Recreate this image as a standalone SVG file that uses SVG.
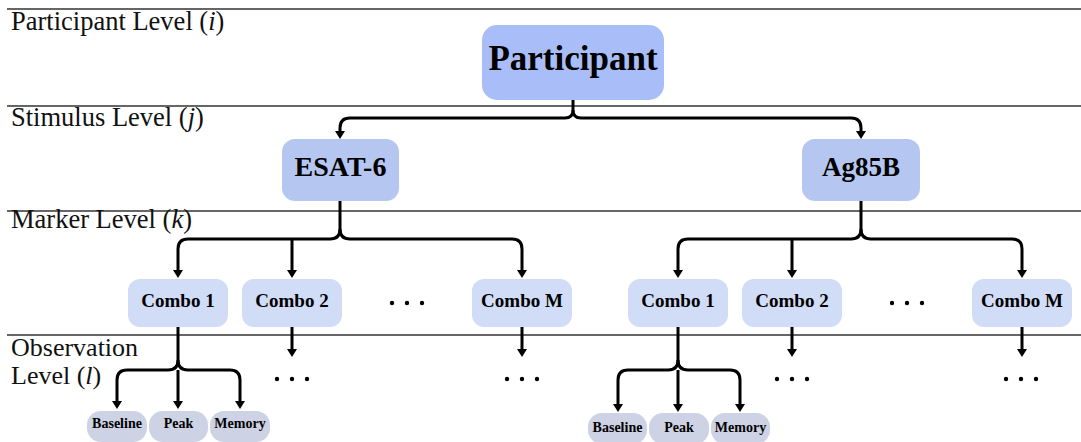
<svg xmlns="http://www.w3.org/2000/svg" width="1081" height="442" viewBox="0 0 1081 442">
<style>
.rule{stroke:#333;stroke-width:1.3;fill:none}
.lvl{font-family:"Liberation Serif","Times New Roman",serif;font-size:26.5px;fill:#111}
.lvl.ob{font-size:26px}
.lvl tspan.it{font-style:italic}
.b{font-family:"Liberation Serif","Times New Roman",serif;font-weight:bold;fill:#000;text-anchor:middle}
.p{fill:#a9bef8}
.s{fill:#b5c7f1}
.c{fill:#d1dcf7}
.o{fill:#cdd2e4}
.conn path{fill:none;stroke:#000;stroke-width:3;marker-end:url(#ah)}
.conn path.nm{marker-end:none}
.dots circle{fill:#000}
</style>
<defs>
<marker id="ah" viewBox="0 0 8 10" refX="4" refY="5" markerWidth="8" markerHeight="10" markerUnits="userSpaceOnUse" orient="auto">
<path d="M0,0 L8,5 L0,10 z" fill="#000"/>
</marker>
</defs>
<rect width="1081" height="442" fill="#fff"/>
<g id="rules">
<line class="rule" x1="7" y1="9" x2="1081" y2="9"/>
<line class="rule" x1="7" y1="106" x2="1081" y2="106"/>
<line class="rule" x1="7" y1="211" x2="1081" y2="211"/>
<line class="rule" x1="7" y1="335" x2="1081" y2="335"/>
</g>
<g id="level-labels">
<text class="lvl" x="11" y="30">Participant Level (<tspan class="it">i</tspan>)</text>
<text class="lvl" x="11" y="126">Stimulus Level (<tspan class="it">j</tspan>)</text>
<text class="lvl" x="11" y="228">Marker Level (<tspan class="it">k</tspan>)</text>
<text class="lvl ob" x="11" y="356">Observation</text>
<text class="lvl ob" x="11" y="384">Level (<tspan class="it">l</tspan>)</text>
</g>
<g class="conn" id="connectors">
<path class="nm" d="M573,100 V110"/>
<path d="M573,110 Q573,118 565,118 H350 Q340,118 340,128 V135"/>
<path d="M573,110 Q573,118 581,118 H851 Q861,118 861,128 V135"/>
<path class="nm" d="M340,201 V229"/>
<path d="M340,229 Q340,239 330,239 H188 Q178,239 178,249 V274"/>
<path d="M340,229 Q340,239 350,239 H512 Q522,239 522,249 V274"/>
<path d="M292,239 V274"/>
<path class="nm" d="M861,201 V229"/>
<path d="M861,229 Q861,239 851,239 H688 Q678,239 678,249 V274"/>
<path d="M861,229 Q861,239 871,239 H1012 Q1022,239 1022,249 V274"/>
<path d="M792,239 V274"/>
<path d="M292,327 V353"/>
<path d="M522,327 V353"/>
<path d="M792,327 V353"/>
<path d="M1022,327 V353"/>
<path class="nm" d="M178,327 V360"/>
<path d="M178,360 Q178,370 168,370 H127 Q117,370 117,380 V405"/>
<path d="M178,360 Q178,370 188,370 H230 Q240,370 240,380 V405"/>
<path d="M178,370 V405"/>
<path class="nm" d="M678,327 V360"/>
<path d="M678,360 Q678,370 668,370 H628 Q618,370 618,380 V408"/>
<path d="M678,360 Q678,370 688,370 H730 Q740,370 740,380 V408"/>
<path d="M678,370 V408"/>
</g>
<g id="participant"><rect class="p" x="482" y="25" width="182" height="75" rx="15"/><text class="b" x="573" y="70" font-size="35">Participant</text></g>
<g id="esat6"><rect class="s" x="282" y="139" width="117" height="62" rx="13"/><text class="b" x="340.5" y="176" font-size="28">ESAT-6</text></g>
<g id="ag85b"><rect class="s" x="802" y="139" width="118" height="62" rx="13"/><text class="b" x="861" y="176" font-size="27">Ag85B</text></g>
<g id="esat-combo1"><rect class="c" x="128" y="279" width="100" height="48" rx="12"/><text class="b" x="178" y="307" font-size="19">Combo 1</text></g>
<g id="esat-combo2"><rect class="c" x="242" y="279" width="100" height="48" rx="12"/><text class="b" x="292" y="307" font-size="19">Combo 2</text></g>
<g id="esat-comboM"><rect class="c" x="472" y="279" width="100" height="48" rx="12"/><text class="b" x="522" y="307" font-size="19">Combo M</text></g>
<g id="ag-combo1"><rect class="c" x="628" y="279" width="100" height="48" rx="12"/><text class="b" x="678" y="307" font-size="19">Combo 1</text></g>
<g id="ag-combo2"><rect class="c" x="742" y="279" width="100" height="48" rx="12"/><text class="b" x="792" y="307" font-size="19">Combo 2</text></g>
<g id="ag-comboM"><rect class="c" x="972" y="279" width="100" height="48" rx="12"/><text class="b" x="1022" y="307" font-size="19">Combo M</text></g>
<g id="esat-baseline"><rect class="o" x="87" y="411" width="60" height="31" rx="14"/><text class="b" x="117" y="428" font-size="14">Baseline</text></g>
<g id="esat-peak"><rect class="o" x="149" y="411" width="59" height="31" rx="14"/><text class="b" x="178.5" y="428" font-size="14">Peak</text></g>
<g id="esat-memory"><rect class="o" x="210" y="411" width="60" height="31" rx="14"/><text class="b" x="240" y="428" font-size="14">Memory</text></g>
<g id="ag-baseline"><rect class="o" x="588" y="413" width="59" height="31" rx="14"/><text class="b" x="617.5" y="432" font-size="14">Baseline</text></g>
<g id="ag-peak"><rect class="o" x="649" y="413" width="60" height="31" rx="14"/><text class="b" x="679" y="432" font-size="14">Peak</text></g>
<g id="ag-memory"><rect class="o" x="711" y="413" width="59" height="31" rx="14"/><text class="b" x="740.5" y="432" font-size="14">Memory</text></g>
<g class="dots" id="ellipses">
<circle cx="392" cy="303" r="2.2"/><circle cx="407" cy="303" r="2.2"/><circle cx="422" cy="303" r="2.2"/>
<circle cx="892" cy="303" r="2.2"/><circle cx="907" cy="303" r="2.2"/><circle cx="922" cy="303" r="2.2"/>
<circle cx="277" cy="379" r="2.2"/><circle cx="292" cy="379" r="2.2"/><circle cx="307" cy="379" r="2.2"/>
<circle cx="507" cy="379" r="2.2"/><circle cx="522" cy="379" r="2.2"/><circle cx="537" cy="379" r="2.2"/>
<circle cx="777" cy="379" r="2.2"/><circle cx="792" cy="379" r="2.2"/><circle cx="807" cy="379" r="2.2"/>
<circle cx="1006" cy="379" r="2.2"/><circle cx="1021" cy="379" r="2.2"/><circle cx="1036" cy="379" r="2.2"/>
</g>
</svg>
